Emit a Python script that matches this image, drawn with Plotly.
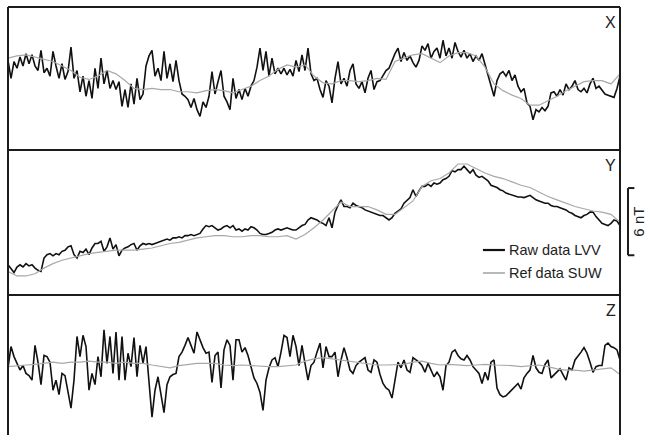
import numpy as np
import plotly.graph_objects as go

# Geomagnetic field components (nT, arbitrary baseline per panel) over one day.
# "raw" = LVV raw magnetometer record, "ref" = SUW reference observatory.
x_raw = [
    8.0, 6.4, 7.9, 7.3, 8.3, 7.5, 8.6, 7.7, 8.5, 7.5,
    7.1, 8.9, 6.9, 7.3, 6.6, 8.8, 7.5, 6.4, 7.7, 6.3,
    7.0, 9.2, 6.4, 7.1, 5.2, 6.6, 4.8, 6.2, 4.6, 7.3,
    5.5, 8.2, 5.9, 7.1, 5.5, 6.2, 5.4, 6.1, 3.9, 5.4,
    3.8, 5.9, 4.1, 6.4, 4.5, 5.0, 7.5, 8.4, 8.9, 6.6,
    7.3, 6.2, 8.8, 6.4, 7.7, 6.1, 8.0, 6.2, 5.0, 4.8,
    4.5, 3.8, 4.6, 3.6, 3.0, 4.3, 3.8, 4.8, 7.0, 5.0,
    6.1, 7.1, 4.8, 4.3, 3.6, 6.4, 4.6, 5.4, 4.5, 5.5,
    4.8, 5.7, 6.2, 7.4, 9.1, 7.1, 8.8, 6.6, 8.2, 6.8,
    7.3, 6.8, 7.3, 6.7, 7.2, 6.6, 8.0, 7.0, 8.5, 7.1,
    9.1, 6.8, 6.2, 6.4, 5.4, 4.7, 6.2, 5.7, 4.2, 6.4,
    7.9, 5.9, 6.4, 5.7, 7.1, 7.7, 5.9, 5.5, 6.1, 5.1,
    6.4, 7.1, 5.4, 6.1, 6.2, 6.6, 7.1, 7.3, 8.0, 8.6,
    9.1, 7.9, 8.7, 8.0, 8.4, 7.8, 7.4, 8.0, 9.3, 8.9,
    9.5, 8.2, 8.8, 9.1, 8.2, 9.8, 8.4, 9.1, 8.2, 9.6,
    8.8, 8.3, 8.9, 8.2, 8.6, 7.9, 8.4, 8.0, 8.6, 7.6,
    6.6, 5.7, 4.8, 6.2, 6.8, 7.0, 6.6, 7.1, 6.2, 6.7,
    5.7, 5.2, 5.5, 4.2, 3.9, 2.7, 3.6, 3.4, 3.8, 3.5,
    3.9, 5.1, 5.2, 4.8, 5.4, 4.9, 5.9, 5.4, 5.7, 6.2,
    5.4, 5.2, 5.5, 5.1, 5.9, 6.4, 5.5, 5.7, 5.4, 5.0,
    4.9, 4.8, 4.7, 5.5, 6.6,
]
x_ref = [
    8.2, 8.4, 8.5, 8.3, 8.1, 7.9, 7.5, 7.1, 6.5, 6.3,
    6.6, 7.1, 6.8, 6.2, 5.5, 5.4, 5.5, 5.4, 5.4, 5.2,
    5.2, 5.1, 5.3, 5.4, 5.3, 5.1, 5.4, 5.7, 6.2, 6.6,
    7.2, 7.6, 7.4, 7.6, 6.6, 6.0, 5.9, 6.2, 6.2, 6.1,
    6.2, 6.4, 6.3, 7.9, 8.2, 8.5, 8.6, 8.2, 7.8, 8.4,
    8.7, 8.7, 8.4, 7.4, 5.9, 5.3, 4.9, 4.6, 4.0, 4.0,
    4.4, 4.8, 5.3, 5.7, 6.1, 6.2, 6.2, 5.9, 6.8,
]
y_raw = [
    2.7, 2.3, 2.0, 2.5, 2.7, 2.5, 2.8, 2.6, 2.7, 2.4,
    2.2, 2.1, 3.3, 3.6, 3.7, 3.5, 3.7, 3.6, 3.9, 4.0,
    4.3, 4.4, 3.6, 3.3, 3.9, 3.8, 4.1, 3.6, 4.2, 4.6,
    4.6, 4.8, 3.9, 4.3, 5.1, 4.1, 4.5, 3.5, 4.0, 4.2,
    4.3, 4.5, 4.6, 4.0, 4.4, 4.6, 4.5, 4.6, 4.5, 4.6,
    4.7, 4.8, 4.9, 5.0, 4.9, 5.1, 5.1, 5.2, 5.1, 5.3,
    5.3, 5.4, 5.3, 5.4, 5.5, 5.9, 6.2, 6.1, 6.2, 6.0,
    5.8, 5.9, 6.1, 6.2, 6.0, 6.2, 5.8, 5.9, 5.7, 5.9,
    5.8, 6.1, 6.0, 5.8, 5.5, 5.4, 5.4, 5.5, 5.6, 5.8,
    5.9, 5.8, 5.9, 6.0, 5.9, 5.8, 5.8, 6.0, 6.2, 6.3,
    6.7, 6.9, 6.8, 6.7, 6.5, 6.4, 6.2, 6.9, 6.0, 7.4,
    8.0, 8.5, 7.9, 7.9, 7.8, 8.2, 8.0, 7.9, 7.8, 7.6,
    7.5, 7.4, 7.3, 7.2, 7.1, 7.1, 6.9, 6.7, 6.9, 7.3,
    7.5, 7.7, 8.2, 8.5, 8.7, 9.4, 8.8, 9.3, 9.7, 9.7,
    9.9, 9.7, 10.0, 9.9, 10.0, 10.3, 10.4, 10.6, 11.1, 11.0,
    11.2, 11.2, 11.5, 11.2, 10.9, 11.2, 10.7, 10.5, 10.6, 10.4,
    10.2, 9.8, 9.7, 9.6, 9.4, 9.3, 9.1, 9.0, 8.9, 8.8,
    8.75, 8.75, 8.7, 8.8, 8.9, 8.7, 8.5, 8.4, 8.3, 8.2,
    8.2, 8.0, 7.9, 7.9, 7.8, 7.7, 7.6, 7.4, 7.3, 7.1,
    7.0, 6.9, 7.1, 7.2, 7.4, 7.4, 7.0, 6.7, 6.4, 6.3,
    6.2, 6.4, 6.7, 6.6, 6.2,
]
y_ref = [
    2.1, 1.7, 1.7, 1.9, 2.4, 2.8, 3.1, 3.3, 3.5, 3.7,
    3.8, 3.9, 4.0, 4.0, 4.0, 4.1, 4.2, 4.4, 4.6, 4.7,
    4.9, 5.1, 5.2, 5.3, 5.3, 5.2, 5.2, 5.3, 5.3, 5.2,
    5.2, 5.3, 5.0, 5.4, 6.0, 6.7, 7.5, 8.3, 7.9, 7.9,
    7.9, 7.6, 7.2, 7.2, 7.8, 8.4, 9.7, 10.2, 10.4, 10.9,
    11.7, 11.7, 11.3, 10.9, 10.6, 10.4, 10.1, 9.8, 9.6, 9.2,
    8.8, 8.5, 8.2, 7.9, 7.7, 7.5, 7.4, 7.2, 6.5,
]
z_raw = [
    6.0, 7.9, 7.0, 6.4, 5.8, 6.2, 5.5, 5.3, 4.9, 8.0,
    6.5, 4.5, 7.1, 7.0, 6.5, 4.0, 4.9, 3.6, 5.5, 5.3,
    4.0, 2.4, 4.9, 8.8, 7.0, 8.9, 7.9, 4.0, 5.5, 4.5,
    7.0, 5.2, 9.4, 6.4, 8.8, 5.5, 9.2, 4.9, 8.8, 4.9,
    7.3, 6.1, 8.7, 5.2, 8.0, 6.4, 7.9, 4.6, 1.6, 4.0,
    5.2, 3.6, 2.0, 4.5, 5.2, 5.4, 5.5, 7.0, 7.4, 8.0,
    8.7, 8.0, 7.3, 9.2, 8.5, 7.8, 7.3, 7.4, 4.7, 7.1,
    7.4, 4.2, 7.6, 8.5, 8.0, 4.9, 8.5, 8.5, 7.4, 7.8,
    7.1, 6.2, 5.1, 4.6, 3.8, 2.2, 4.9, 6.0, 6.7, 6.9,
    6.1, 7.4, 8.9, 8.7, 7.0, 8.9, 7.9, 6.2, 8.0, 6.4,
    4.9, 6.2, 6.5, 7.4, 8.2, 6.0, 7.9, 7.0, 7.0, 7.4,
    5.2, 6.7, 7.8, 6.9, 5.8, 5.5, 6.2, 6.5, 6.7, 6.9,
    5.8, 5.6, 6.7, 6.5, 5.4, 4.6, 4.2, 4.0, 3.3, 4.9,
    6.5, 6.0, 6.7, 5.8, 5.6, 6.9, 6.7, 6.5, 6.2, 5.6,
    6.4, 5.8, 5.2, 5.6, 5.2, 4.0, 6.2, 6.5, 7.4, 7.6,
    7.1, 6.8, 6.7, 7.1, 6.7, 6.1, 5.8, 5.5, 4.6, 5.6,
    4.9, 6.5, 6.7, 4.2, 3.6, 3.4, 3.5, 3.8, 4.0, 4.4,
    4.6, 4.1, 5.1, 5.5, 5.8, 7.1, 6.0, 5.6, 5.5, 6.3,
    6.7, 5.1, 5.4, 5.6, 5.9, 5.4, 4.9, 6.0, 5.8, 6.7,
    7.0, 7.4, 7.8, 7.3, 6.5, 5.6, 6.1, 6.2, 6.2, 8.0,
    8.2, 7.9, 7.8, 7.6, 6.7,
]
z_ref = [
    6.1, 6.2, 6.25, 6.3, 6.4, 6.5, 6.4, 6.5, 6.5, 6.6,
    6.5, 6.5, 6.4, 6.5, 6.4, 6.4, 6.25, 6.1, 6.0, 6.2,
    6.3, 6.4, 6.4, 6.4, 6.25, 6.2, 6.25, 6.2, 6.1, 6.1,
    6.1, 6.2, 6.25, 6.6, 6.8, 6.9, 6.8, 6.7, 6.6, 6.5,
    6.4, 6.25, 6.25, 6.25, 6.3, 6.5, 6.6, 6.4, 6.25, 6.3,
    6.25, 6.2, 6.25, 6.3, 6.25, 6.25, 6.2, 6.1, 6.2, 6.25,
    6.1, 5.9, 5.8, 5.8, 5.7, 5.8, 5.9, 6.0, 5.4,
]

components = ["X", "Y", "Z"]
series_names = ["Raw data LVV", "Ref data SUW"]
scale_bar_nT = 6
y_spans = [12.77, 12.95, 12.5]          # nT shown in each panel

raw_color = "#111111"
ref_color = "#a8a8a8"
frame_color = "#1c1c1c"
font_family = "Liberation Sans, Arial, sans-serif"

t_raw = np.linspace(0, 24, len(x_raw))   # hours UT
t_ref = np.linspace(0, 24, len(x_ref))

# panel domains (top to bottom) in paper coordinates
domains = [[0.6659, 1.0], [0.3271, 0.6659], [0.0, 0.3271]]

fig = go.Figure()
raw_sets = [x_raw, y_raw, z_raw]
ref_sets = [x_ref, y_ref, z_ref]
for k in range(3):
    suffix = "" if k == 0 else str(k + 1)
    fig.add_trace(go.Scatter(x=t_raw, y=raw_sets[k], mode="lines",
                             line=dict(color=raw_color, width=1.6),
                             xaxis="x" + suffix, yaxis="y" + suffix,
                             name=series_names[0], showlegend=False))
    fig.add_trace(go.Scatter(x=t_ref, y=ref_sets[k], mode="lines",
                             line=dict(color=ref_color, width=1.2),
                             xaxis="x" + suffix, yaxis="y" + suffix,
                             name=series_names[1], showlegend=False))

axis_style = dict(showgrid=False, zeroline=False, showticklabels=False,
                  ticks="", showline=False, fixedrange=True)
layout = dict(
    width=648, height=435,
    margin=dict(l=8, r=28, t=7, b=0),
    paper_bgcolor="white", plot_bgcolor="white",
    font=dict(family=font_family, color="#222"),
    showlegend=False,
)
for k in range(3):
    suffix = "" if k == 0 else str(k + 1)
    layout["xaxis" + suffix] = dict(axis_style, range=[0, 24], domain=[0, 1],
                                    anchor="y" + suffix)
    layout["yaxis" + suffix] = dict(axis_style, range=[0, y_spans[k]],
                                    domain=domains[k], anchor="x" + suffix)
fig.update_layout(**layout)

# panel frames (the bottom panel is left open at its lower edge)
frame = dict(color=frame_color, width=2)
for xv in (0, 1):
    fig.add_shape(type="line", xref="paper", yref="paper",
                  x0=xv, x1=xv, y0=0, y1=1, line=frame)
for yv in (1.0, domains[0][0], domains[1][0]):
    fig.add_shape(type="line", xref="paper", yref="paper",
                  x0=0, x1=1, y0=yv, y1=yv, line=frame)

# component labels
for k, name in enumerate(components):
    top = domains[k][1]
    fig.add_annotation(text=name, xref="paper", yref="paper",
                       x=0.996, y=top - 0.012, xanchor="right", yanchor="top",
                       showarrow=False, font=dict(size=16, color="#222"))

# legend
legend_rows = [(0.4322, raw_color, 2.2), (0.3785, ref_color, 1.6)]
for (yv, col, w), label in zip(legend_rows, series_names):
    fig.add_shape(type="line", xref="paper", yref="paper",
                  x0=0.776, x1=0.812, y0=yv, y1=yv, line=dict(color=col, width=w))
    fig.add_annotation(text=label, xref="paper", yref="paper",
                       x=0.815, y=yv, xanchor="left", yanchor="middle",
                       showarrow=False, font=dict(size=14.5, color="#222"))

# 6 nT scale bar beside the Y panel, in Y-panel data units
bar_lo = 3.55
bar_hi = bar_lo + scale_bar_nT
bar = dict(color=frame_color, width=2)
fig.add_shape(type="line", xref="paper", yref="y2",
              x0=1.0131, x1=1.0131, y0=bar_lo, y1=bar_hi, line=bar)
for yv in (bar_lo, bar_hi):
    fig.add_shape(type="line", xref="paper", yref="y2",
                  x0=1.0131, x1=1.0235, y0=yv, y1=yv, line=bar)
fig.add_annotation(text=f"{scale_bar_nT} nT", xref="paper", yref="y2",
                   x=1.031, y=(bar_lo + bar_hi) / 2, textangle=-90,
                   xanchor="center", yanchor="middle", showarrow=False,
                   font=dict(size=15, color="#222"))

fig.write_html("out.html")
